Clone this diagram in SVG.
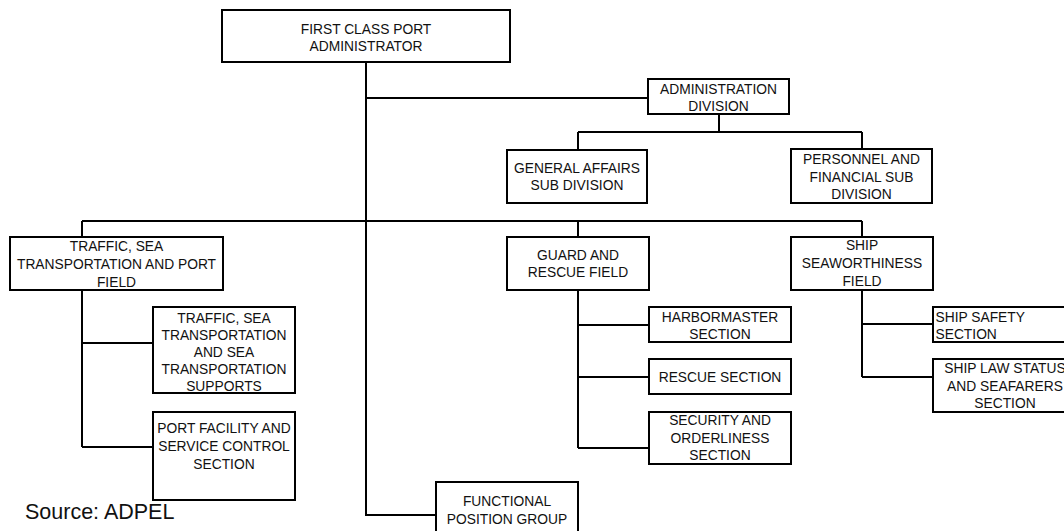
<svg xmlns="http://www.w3.org/2000/svg" width="1064" height="531" viewBox="0 0 1064 531">
  <style>
    .box { fill: #ffffff; stroke: #000000; stroke-width: 2; }
    .lbl { font-family: "Liberation Sans", Arial, sans-serif; font-size: 13.8px; fill: #111111; text-anchor: middle; }
    .lft { text-anchor: start; }
    .wire { fill: none; stroke: #000000; stroke-width: 2; }
    .note { font-family: "Liberation Sans", Arial, sans-serif; font-size: 21.5px; fill: #111111; }
  </style>
  <rect width="1064" height="531" fill="#ffffff"/>

  <!-- connectors -->
  <g id="connectors" class="wire">
    <path d="M366,62 V515 H436"/>
    <path d="M366,98 H648"/>
    <path d="M719,114 V132 M578,132 H862 M578,132 V150 M862,132 V149"/>
    <path d="M82,221 H862 M82,221 V237 M578,221 V237 M862,221 V237"/>
    <path d="M82,290 V447 M82,343 H153 M82,447 H153"/>
    <path d="M578,290 V448 M578,325 H649 M578,377 H649 M578,448 H649"/>
    <path d="M862,290 V377 M862,324 H933 M862,377 H933"/>
  </g>

  <g id="port-administrator">
    <rect class="box" x="222" y="10" width="288" height="52"/>
    <text class="lbl" x="366" y="33.5">FIRST CLASS PORT</text>
    <text class="lbl" x="366" y="50.5">ADMINISTRATOR</text>
  </g>

  <g id="administration-division">
    <rect class="box" x="648" y="79" width="141" height="35"/>
    <text class="lbl" x="718.5" y="94">ADMINISTRATION</text>
    <text class="lbl" x="718.5" y="111">DIVISION</text>
  </g>

  <g id="general-affairs">
    <rect class="box" x="507" y="150" width="140" height="53"/>
    <text class="lbl" x="577" y="173">GENERAL AFFAIRS</text>
    <text class="lbl" x="577" y="190">SUB DIVISION</text>
  </g>

  <g id="personnel-financial">
    <rect class="box" x="791" y="149" width="141" height="54"/>
    <text class="lbl" x="861.5" y="164">PERSONNEL AND</text>
    <text class="lbl" x="861.5" y="182">FINANCIAL SUB</text>
    <text class="lbl" x="861.5" y="199">DIVISION</text>
  </g>

  <g id="traffic-field">
    <rect class="box" x="10" y="237" width="213" height="53"/>
    <text class="lbl" x="116.5" y="251">TRAFFIC, SEA</text>
    <text class="lbl" x="116.5" y="269">TRANSPORTATION AND PORT</text>
    <text class="lbl" x="116.5" y="286.5">FIELD</text>
  </g>

  <g id="traffic-sea-transportation">
    <rect class="box" x="153" y="307" width="142" height="86"/>
    <text class="lbl" x="224" y="323">TRAFFIC, SEA</text>
    <text class="lbl" x="224" y="340">TRANSPORTATION</text>
    <text class="lbl" x="224" y="357">AND SEA</text>
    <text class="lbl" x="224" y="374">TRANSPORTATION</text>
    <text class="lbl" x="224" y="391">SUPPORTS</text>
  </g>

  <g id="port-facility">
    <rect class="box" x="153" y="412" width="142" height="88"/>
    <text class="lbl" x="224" y="433">PORT FACILITY AND</text>
    <text class="lbl" x="224" y="451">SERVICE CONTROL</text>
    <text class="lbl" x="224" y="469">SECTION</text>
  </g>

  <g id="guard-rescue-field">
    <rect class="box" x="507" y="237" width="142" height="53"/>
    <text class="lbl" x="578" y="260">GUARD AND</text>
    <text class="lbl" x="578" y="277">RESCUE FIELD</text>
  </g>

  <g id="harbormaster">
    <rect class="box" x="649" y="307" width="142" height="35"/>
    <text class="lbl" x="720" y="322">HARBORMASTER</text>
    <text class="lbl" x="720" y="338.5">SECTION</text>
  </g>

  <g id="rescue">
    <rect class="box" x="649" y="359" width="142" height="35"/>
    <text class="lbl" x="720" y="382">RESCUE SECTION</text>
  </g>

  <g id="security-orderliness">
    <rect class="box" x="649" y="412" width="142" height="52"/>
    <text class="lbl" x="720" y="425">SECURITY AND</text>
    <text class="lbl" x="720" y="442.5">ORDERLINESS</text>
    <text class="lbl" x="720" y="460">SECTION</text>
  </g>

  <g id="ship-seaworthiness">
    <rect class="box" x="791" y="237" width="142" height="53"/>
    <text class="lbl" x="862" y="250">SHIP</text>
    <text class="lbl" x="862" y="268">SEAWORTHINESS</text>
    <text class="lbl" x="862" y="286">FIELD</text>
  </g>

  <g id="ship-safety">
    <rect class="box" x="933" y="307" width="150" height="35"/>
    <text class="lbl lft" x="935.5" y="322">SHIP SAFETY</text>
    <text class="lbl lft" x="935.5" y="338.5">SECTION</text>
  </g>

  <g id="ship-law-seafarers">
    <rect class="box" x="933" y="359" width="150" height="53"/>
    <text class="lbl" x="1005" y="373">SHIP LAW STATUS</text>
    <text class="lbl" x="1005" y="391">AND SEAFARERS</text>
    <text class="lbl" x="1005" y="408">SECTION</text>
  </g>

  <g id="functional-position">
    <rect class="box" x="436" y="482" width="142" height="60"/>
    <text class="lbl" x="507" y="506">FUNCTIONAL</text>
    <text class="lbl" x="507" y="523.5">POSITION GROUP</text>
  </g>

  <text class="note" x="25" y="519">Source: ADPEL</text>
</svg>
